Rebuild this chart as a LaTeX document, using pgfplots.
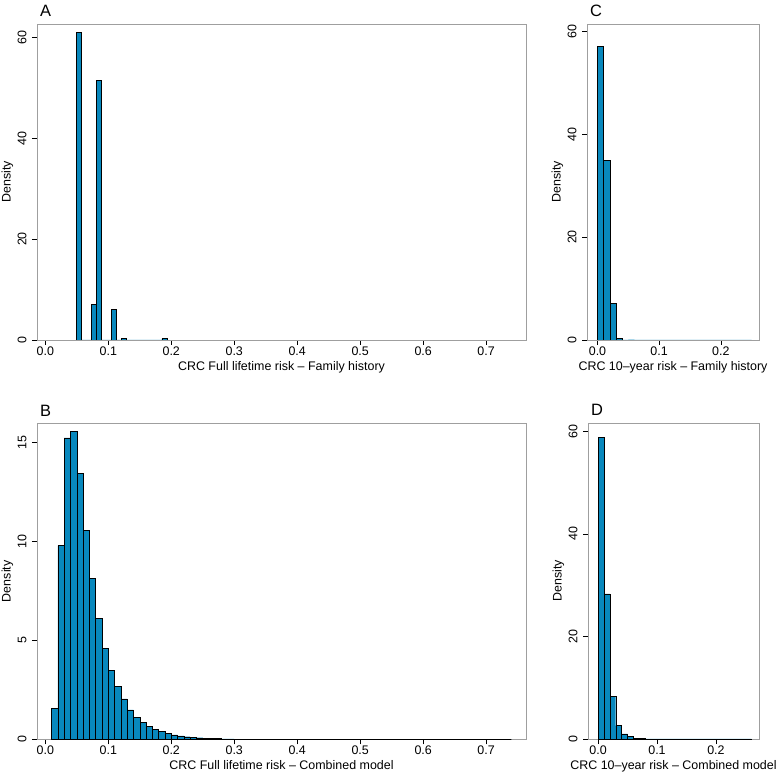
\documentclass[border=0pt]{standalone}
\usepackage{fontspec}
\setmainfont{Liberation Sans}
\usepackage{pgfplots}
\pgfplotsset{compat=1.18}
\definecolor{barblue}{RGB}{8,136,189}
\pgfplotsset{
  rstyle/.style={
    scale only axis,
    font=\fontsize{12.5}{14}\selectfont,
    /pgf/number format/assume math mode=true,
    tick align=outside, tick pos=left,
    major tick length=5bp,
    tick style={black, line width=0.5bp},
    axis line style={gray!75, line width=0.7bp},
    xticklabel style={/pgf/number format/fixed, /pgf/number format/fixed zerofill, /pgf/number format/precision=1, inner sep=0pt, anchor=north},
    xticklabel shift={1.7bp},
    yticklabel style={rotate=90, anchor=south, inner sep=0pt},
    yticklabel shift={5.3bp},
    ylabel={Density},
    every axis y label/.style={at={(axis description cs:0,0.5)}, xshift=-23.7bp, rotate=90, anchor=south, inner sep=0pt},
    every axis x label/.style={at={(axis description cs:0.5,0)}, anchor=north, inner sep=0pt, yshift=-21bp},
    every axis title/.style={at={(axis description cs:0,1)}, anchor=base west, inner sep=0pt, xshift=3bp, yshift=7bp, font=\fontsize{16.5}{18}\selectfont},
    ymin=0,
  },
  hist/.style={ybar interval, fill=barblue, draw=black, line width=0.4bp},
}
\begin{document}
\begin{tikzpicture}
\useasboundingbox (0,0) rectangle (780bp,776bp);
% Panel A
\begin{axis}[rstyle, at={(37bp,436bp)}, anchor=south west, width=489bp, height=316bp,
  xmin=-0.0132, xmax=0.7633, ymax=62.6,
  xtick={0,0.1,0.2,0.3,0.4,0.5,0.6,0.7}, ytick={0,20,40,60},
  title={A}, xlabel={CRC Full lifetime risk -- Family history}]
\addplot[hist] coordinates {
(0.049,61.0) (0.057,0) (0.065,0) (0.073,7.0) (0.081,51.4) (0.089,0) (0.097,0)
(0.105,6.1) (0.113,0) (0.121,0.28) (0.129,0) (0.137,0) (0.145,0) (0.153,0)
(0.161,0) (0.169,0) (0.177,0) (0.185,0.28) (0.193,0)
};
\end{axis}
% Panel C
\begin{axis}[rstyle, at={(587bp,436bp)}, anchor=south west, width=172bp, height=316bp,
  xmin=-0.017, xmax=0.262, ymax=61.4,
  xtick={0,0.1,0.2}, ytick={0,20,40,60},
  title={C}, xlabel={CRC 10--year risk -- Family history}]
\addplot[hist] coordinates {
(0.00,57.1) (0.01,34.9) (0.02,7.15) (0.03,0.27) (0.04,0.02) (0.05,0.05) (0.06,0.01)
(0.07,0) (0.08,0) (0.09,0) (0.10,0) (0.11,0) (0.12,0) (0.13,0) (0.14,0) (0.15,0)
(0.16,0) (0.17,0) (0.18,0) (0.19,0) (0.20,0) (0.21,0) (0.22,0) (0.23,0) (0.24,0) (0.25,0)
};
\end{axis}
% Panel B
\begin{axis}[rstyle, at={(37bp,36.7bp)}, anchor=south west, width=489bp, height=316bp,
  xmin=-0.0132, xmax=0.7633, ymax=15.96,
  xtick={0,0.1,0.2,0.3,0.4,0.5,0.6,0.7}, ytick={0,5,10,15},
  title={B}, xlabel={CRC Full lifetime risk -- Combined model}]
\addplot[hist] coordinates {
(0.01,1.57) (0.02,9.78) (0.03,15.22) (0.04,15.56) (0.05,13.43) (0.06,10.56)
(0.07,8.13) (0.08,6.11) (0.09,4.60) (0.10,3.47) (0.11,2.68) (0.12,2.04)
(0.13,1.48) (0.14,1.11) (0.15,0.86) (0.16,0.64) (0.17,0.52) (0.18,0.40)
(0.19,0.30) (0.20,0.22) (0.21,0.17) (0.22,0.13) (0.23,0.10) (0.24,0.08)
(0.25,0.06) (0.26,0.045) (0.27,0.035) (0.28,0.025) (0.29,0.018) (0.30,0.012)
(0.31,0.009) (0.32,0.007) (0.33,0.006) (0.34,0.005) (0.35,0.004) (0.36,0.004)
(0.37,0.003) (0.38,0.003) (0.39,0.002) (0.40,0.002) (0.41,0.002) (0.42,0.002)
(0.43,0.001) (0.44,0.001) (0.45,0.001) (0.46,0.001) (0.47,0.001) (0.48,0.001)
(0.49,0.001) (0.50,0) (0.51,0) (0.52,0) (0.53,0) (0.54,0) (0.55,0) (0.56,0)
(0.57,0) (0.58,0) (0.59,0) (0.60,0.001) (0.61,0.001) (0.62,0) (0.63,0) (0.64,0)
(0.65,0) (0.66,0) (0.67,0.001) (0.68,0) (0.69,0.001) (0.70,0) (0.71,0) (0.72,0)
(0.73,0) (0.74,0)
};
\end{axis}
% Panel D
\begin{axis}[rstyle, at={(588bp,37bp)}, anchor=south west, width=171bp, height=316bp,
  xmin=-0.017, xmax=0.273, ymax=61.6,
  xtick={0,0.1,0.2}, ytick={0,20,40,60},
  title={D}, xlabel={CRC 10--year risk -- Combined model}]
\addplot[hist] coordinates {
(0.00,58.8) (0.01,28.3) (0.02,8.26) (0.03,2.6) (0.04,0.98) (0.05,0.46) (0.06,0.16)
(0.07,0.06) (0.08,0.03) (0.09,0.02) (0.10,0.01) (0.11,0.01) (0.12,0.005) (0.13,0.005)
(0.14,0.005) (0.15,0.003) (0.16,0.003) (0.17,0.002) (0.18,0.002) (0.19,0.002)
(0.20,0.001) (0.21,0.001) (0.22,0.001) (0.23,0.001) (0.24,0.01) (0.25,0.01) (0.26,0)
};
\end{axis}
\end{tikzpicture}
\end{document}
